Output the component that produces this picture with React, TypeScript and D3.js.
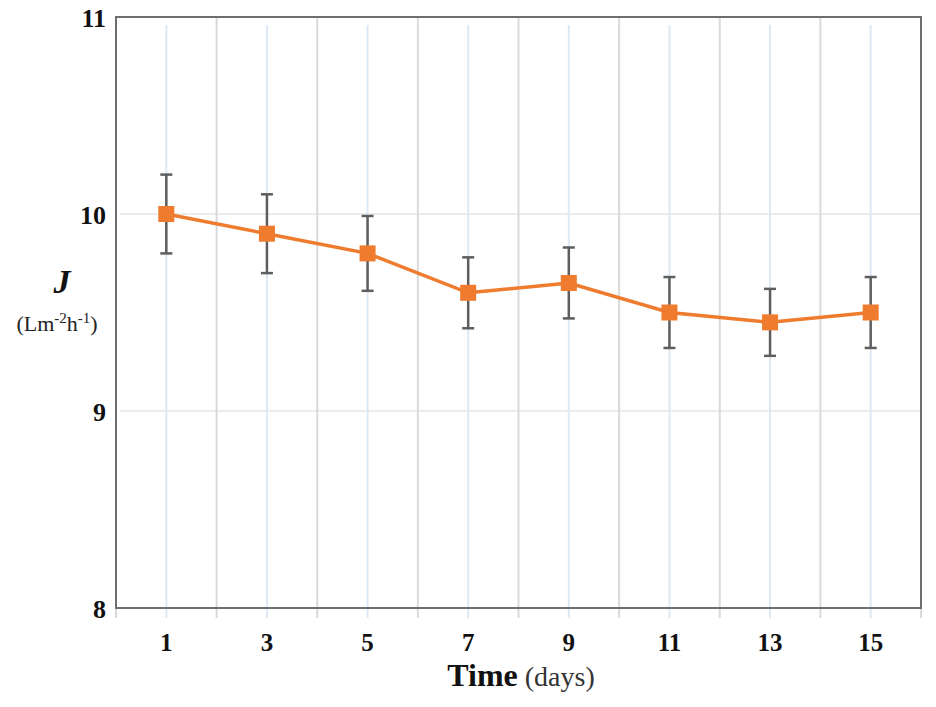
import React from "react";
import * as d3 from "d3";

// Permeate flux over filtration time
const days = ["1", "3", "5", "7", "9", "11", "13", "15"];
const flux = [10.0, 9.9, 9.8, 9.6, 9.65, 9.5, 9.45, 9.5];
const fluxErr = [0.2, 0.2, 0.19, 0.18, 0.18, 0.18, 0.17, 0.18];
const yTicks = [8, 9, 10, 11];

const W = 936;
const H = 707;
const left = 116;
const right = 921;
const top = 17;
const bottom = 608;

const serif = "'Liberation Serif', 'Times New Roman', serif";

export default function App() {
  const x = d3.scaleBand<string>().domain(days).range([left, right]).padding(0);
  const y = d3.scaleLinear().domain([8, 11]).range([bottom, top]);
  const cx = (d: string) => (x(d) as number) + x.bandwidth() / 2;

  const line = d3
    .line<number>()
    .x((_, i) => cx(days[i]))
    .y((v) => y(v));

  const boundaries = [...days.map((d) => x(d) as number), right];

  return (
    <svg
      width={W}
      height={H}
      style={{ position: "absolute", left: 0, top: 0, background: "#fff" }}
    >
      {/* horizontal grid */}
      {yTicks
        .filter((t) => t > 8 && t < 11)
        .map((t) => (
          <line key={"h" + t} x1={left + 4} x2={right} y1={y(t)} y2={y(t)} stroke="#ececec" strokeWidth={2} />
        ))}
      {/* category boundary lines with ticks */}
      {boundaries.map((b, i) => (
        <line key={"b" + i} x1={b} x2={b} y1={top} y2={bottom + 10} stroke="#dadada" strokeWidth={2} />
      ))}
      {/* category centre lines */}
      {days.map((d) => (
        <line key={"c" + d} x1={cx(d)} x2={cx(d)} y1={top + 8} y2={bottom + 10} stroke="#dde9f6" strokeWidth={2} />
      ))}
      {/* frame */}
      <rect x={left} y={top} width={right - left} height={bottom - top} fill="none" stroke="#6e6e6e" strokeWidth={2} />

      {/* error bars */}
      {days.map((d, i) => {
        const xx = cx(d);
        const y1 = y(flux[i] + fluxErr[i]);
        const y2 = y(flux[i] - fluxErr[i]);
        return (
          <g key={"e" + d} stroke="#5e5e5e" strokeWidth={2.5}>
            <line x1={xx} x2={xx} y1={y1} y2={y2} />
            <line x1={xx - 6} x2={xx + 6} y1={y1} y2={y1} />
            <line x1={xx - 6} x2={xx + 6} y1={y2} y2={y2} />
          </g>
        );
      })}

      {/* series line */}
      <path d={line(flux) as string} fill="none" stroke="#ee7b2e" strokeWidth={3.5} />
      {days.map((d, i) => (
        <rect key={"m" + d} x={cx(d) - 8} y={y(flux[i]) - 8} width={16} height={16} fill="#ee7b2e" />
      ))}

      {/* y tick labels */}
      {yTicks.map((t) => (
        <text
          key={"yt" + t}
          x={106}
          y={y(t) + 10}
          textAnchor="end"
          fontFamily={serif}
          fontWeight="bold"
          fontSize={26}
          fill="#111"
        >
          {t}
        </text>
      ))}

      {/* x tick labels */}
      {days.map((d) => (
        <text
          key={"xt" + d}
          x={cx(d)}
          y={651}
          textAnchor="middle"
          fontFamily={serif}
          fontWeight="bold"
          fontSize={25}
          fill="#111"
        >
          {d}
        </text>
      ))}

      {/* y axis title */}
      <text x={62} y={293} textAnchor="middle" fontFamily={serif} fontWeight="bold" fontStyle="italic" fontSize={34} fill="#111">
        J
      </text>
      <text x={57} y={331} textAnchor="middle" fontFamily={serif} fontSize={22} fill="#222">
        (Lm
        <tspan fontSize={15} dy={-8}>-2</tspan>
        <tspan dy={8}>h</tspan>
        <tspan fontSize={15} dy={-8}>-1</tspan>
        <tspan dy={8}>)</tspan>
      </text>

      {/* x axis title */}
      <text x={521} y={686} textAnchor="middle" fontFamily={serif} fill="#111">
        <tspan fontWeight="bold" fontSize={32}>Time</tspan>
        <tspan fontSize={28} fill="#333"> (days)</tspan>
      </text>
    </svg>
  );
}
